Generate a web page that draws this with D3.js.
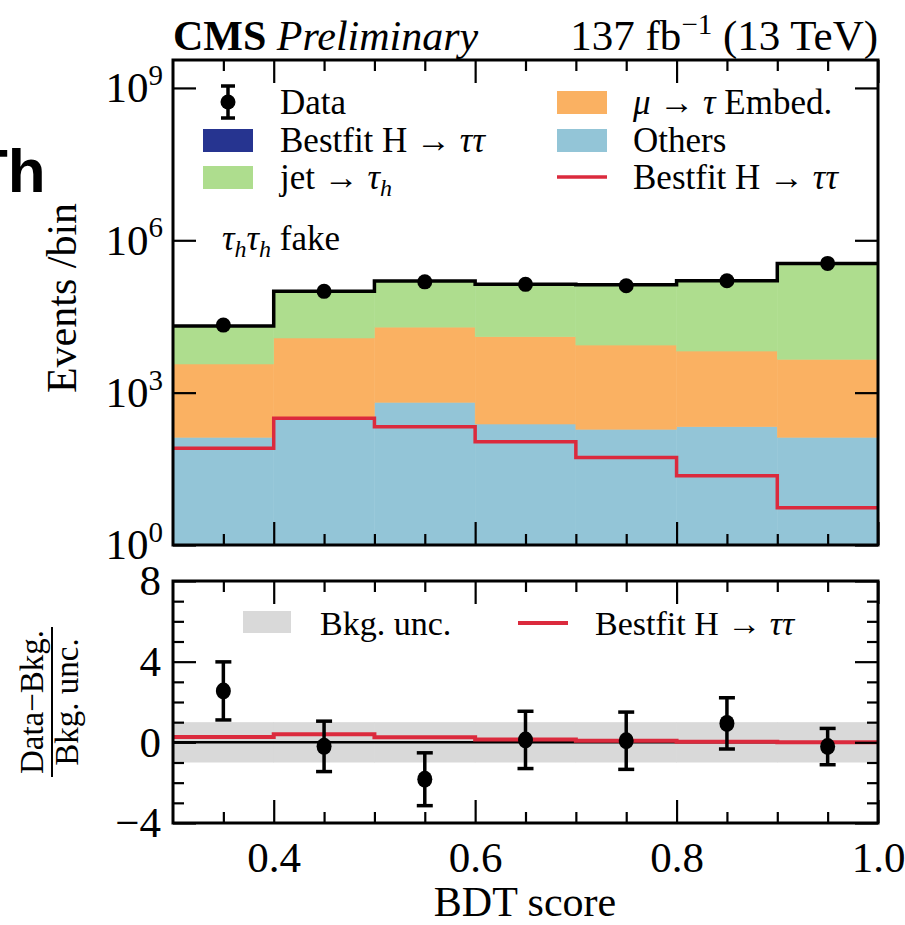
<!DOCTYPE html>
<html><head><meta charset="utf-8">
<script src="https://cdn.jsdelivr.net/npm/d3@7"></script>
<style>body{margin:0;background:#fff}svg{display:block}</style>
</head><body><svg id="c" width="905" height="925"></svg>
<script>
// ---- data ----
const binEdges = [0.3, 0.4, 0.5, 0.6, 0.7, 0.8, 0.9, 1.0];
const binCenters = [0.35, 0.45, 0.55, 0.65, 0.75, 0.85, 0.95];
const others   = [132, 312, 644, 241, 190, 213, 132];
const embed    = [3530, 11590, 18860, 12360, 8460, 6380, 4400];
const jetFakes = [16800, 86800, 137500, 124400, 124300, 153400, 346500];
const signal   = [80, 312, 213, 108, 53, 23, 5.4];
const dataObs  = [21400, 98700, 152000, 135500, 127000, 160000, 351000];
const pullVal  = [2.55, -0.2, -1.83, 0.12, 0.08, 0.94, -0.21];
const pullErr  = [1.44, 1.25, 1.31, 1.42, 1.42, 1.27, 0.9];
const sigPull  = [0.27, 0.40, 0.25, 0.14, 0.08, 0.03, 0.01];
const uncLo    = [-1, -1, -1, -1, -1, -1, -1];
const uncHi    = [1, 1, 1, 1, 1, 1, 1];
const yTicksUpper = [1, 1e3, 1e6, 1e9];
const yTickExp = ["0", "3", "6", "9"];
const yTicksLower = [-4, 0, 4, 8];
const xTicksMajor = [0.4, 0.6, 0.8, 1.0];

const FONT = "'Liberation Serif', 'DejaVu Serif', serif";
const C = {green:"#aedd8e", orange:"#fab162", blue:"#93c5d7", navy:"#263490", red:"#db2a3d", band:"#d9d9d9"};

const svg = d3.select("#c");
const X0 = 173, X1 = 878, UT = 60, UB = 545, LT = 581, LB = 823;
const x = d3.scaleLinear([0.3, 1.0], [X0, X1]);
const yU = d3.scaleLog([1, Math.pow(10, 9.55)], [UB, UT]);
const yL = d3.scaleLinear([-4, 8], [LB, LT]);

const rows = binCenters.map((c, i) => ({i, x0: binEdges[i], x1: binEdges[i+1], others: others[i], embed: embed[i], jet: jetFakes[i]}));
const stack = d3.stack().keys(["others", "embed", "jet"])(rows);
const colors = {others: C.blue, embed: C.orange, jet: C.green};

const gU = svg.append("g");
stack.forEach(layer => {
  gU.selectAll(null).data(layer).enter().append("rect")
    .attr("x", d => x(d.data.x0)).attr("width", d => x(d.data.x1) - x(d.data.x0))
    .attr("y", d => yU(d[1])).attr("height", d => yU(Math.max(d[0], 1)) - yU(d[1]))
    .attr("fill", colors[layer.key]).attr("stroke", colors[layer.key]).attr("stroke-width", 0.5);
});
const stepPts = (vals) => binEdges.map((e, i) => [e, vals[Math.min(i, vals.length - 1)]]);
const totals = rows.map(r => r.others + r.embed + r.jet);
const lineU = d3.line().x(d => x(d[0])).y(d => yU(d[1])).curve(d3.curveStepAfter);
gU.append("path").attr("d", lineU(stepPts(signal))).attr("fill", "none").attr("stroke", C.red).attr("stroke-width", 3.5);
gU.append("path").attr("d", lineU(stepPts(totals))).attr("fill", "none").attr("stroke", "#000").attr("stroke-width", 3.5);
gU.selectAll(null).data(binCenters).enter().append("circle")
  .attr("cx", d => x(d)).attr("cy", (d, i) => yU(dataObs[i])).attr("r", 7.5).attr("fill", "#000");

// ---- lower panel ----
const gL = svg.append("g");
gL.selectAll(null).data(binCenters).enter().append("rect")
  .attr("x", (d, i) => x(binEdges[i]) - 0.3).attr("width", (d, i) => x(binEdges[i+1]) - x(binEdges[i]) + 0.6)
  .attr("y", (d, i) => yL(uncHi[i])).attr("height", (d, i) => yL(uncLo[i]) - yL(uncHi[i]))
  .attr("fill", C.band);
gL.append("line").attr("x1", x(0.3)).attr("x2", x(1.0)).attr("y1", yL(0)).attr("y2", yL(0)).attr("stroke", "#000").attr("stroke-width", 2.5);
const lineL = d3.line().x(d => x(d[0])).y(d => yL(d[1])).curve(d3.curveStepAfter);
gL.append("path").attr("d", lineL(stepPts(sigPull))).attr("fill", "none").attr("stroke", C.red).attr("stroke-width", 4);
const eb = gL.selectAll(null).data(binCenters).enter().append("g");
eb.append("line").attr("x1", d => x(d)).attr("x2", d => x(d))
  .attr("y1", (d, i) => yL(pullVal[i] - pullErr[i])).attr("y2", (d, i) => yL(pullVal[i] + pullErr[i]))
  .attr("stroke", "#000").attr("stroke-width", 3.5);
[-1, 1].forEach(s => {
  eb.append("line").attr("x1", d => x(d) - 8).attr("x2", d => x(d) + 8)
    .attr("y1", (d, i) => yL(pullVal[i] + s * pullErr[i])).attr("y2", (d, i) => yL(pullVal[i] + s * pullErr[i]))
    .attr("stroke", "#000").attr("stroke-width", 3.5);
});
eb.append("ellipse").attr("cx", d => x(d)).attr("cy", (d, i) => yL(pullVal[i])).attr("rx", 7.5).attr("ry", 8.5).attr("fill", "#000");

// ---- axes ----
function styleAxis(g) {
  g.select(".domain").remove();
  g.selectAll(".tick line").attr("stroke", "#000").attr("stroke-width", 2.2);
  g.selectAll(".tick text").attr("font-family", FONT).attr("font-size", 43).attr("fill", "#000");
}
const minorX = d3.range(0.35, 1.0, 0.05).map(v => +v.toFixed(2)).filter(v => !xTicksMajor.some(m => Math.abs(m - v) < 1e-6));
[[UB, d3.axisBottom], [UT, d3.axisTop], [LT, d3.axisTop]].forEach(([yy, ax]) => {
  svg.append("g").attr("transform", `translate(0,${yy})`).call(ax(x).tickValues(xTicksMajor).tickSize(-23).tickFormat("")).call(styleAxis);
  svg.append("g").attr("transform", `translate(0,${yy})`).call(ax(x).tickValues(minorX).tickSize(-11).tickFormat("")).call(styleAxis);
});
svg.append("g").attr("transform", `translate(0,${LB})`).call(d3.axisBottom(x).tickValues(xTicksMajor).tickSize(-23).tickPadding(18).tickFormat(d3.format(".1f"))).call(styleAxis);
svg.append("g").attr("transform", `translate(0,${LB})`).call(d3.axisBottom(x).tickValues(minorX).tickSize(-11).tickFormat("")).call(styleAxis);

const ayU = svg.append("g").attr("transform", `translate(${X0},0)`).call(d3.axisLeft(yU).tickValues(yTicksUpper).tickSize(-23).tickPadding(10).tickFormat(() => "")).call(styleAxis);
ayU.selectAll(".tick text").each(function(d, i) {
  const t = d3.select(this).text(null);
  t.append("tspan").text("10");
  t.append("tspan").attr("font-size", 29).attr("dy", "-0.6em").text(yTickExp[i]);
});
svg.append("g").attr("transform", `translate(${X1},0)`).call(d3.axisRight(yU).tickValues(yTicksUpper).tickSize(-23).tickFormat("")).call(styleAxis);
const minorYL = d3.range(-3, 8, 1).filter(v => !yTicksLower.includes(v));
svg.append("g").attr("transform", `translate(${X0},0)`).call(d3.axisLeft(yL).tickValues(yTicksLower).tickSize(-23).tickPadding(12).tickFormat(d => d < 0 ? "\u2212" + Math.abs(d) : d)).call(styleAxis);
svg.append("g").attr("transform", `translate(${X0},0)`).call(d3.axisLeft(yL).tickValues(minorYL).tickSize(-11).tickFormat("")).call(styleAxis);
svg.append("g").attr("transform", `translate(${X1},0)`).call(d3.axisRight(yL).tickValues(yTicksLower).tickSize(-23).tickFormat("")).call(styleAxis);
svg.append("g").attr("transform", `translate(${X1},0)`).call(d3.axisRight(yL).tickValues(minorYL).tickSize(-11).tickFormat("")).call(styleAxis);

[[UT, UB], [LT, LB]].forEach(([t, b]) => svg.append("rect").attr("x", X0).attr("y", t).attr("width", X1 - X0).attr("height", b - t)
  .attr("fill", "none").attr("stroke", "#000").attr("stroke-width", 3));

// ---- texts ----
function txt(xx, yy, size, anchor) {
  return svg.append("text").attr("x", xx).attr("y", yy).attr("font-family", FONT).attr("font-size", size).attr("text-anchor", anchor || "start").attr("fill", "#000");
}
const title = txt(X0, 50, 42);
title.append("tspan").attr("font-weight", "bold").text("CMS");
title.append("tspan").attr("font-style", "italic").text(" Preliminary");
const lumi = txt(X1, 50, 43, "end");
lumi.append("tspan").text("137 fb");
lumi.append("tspan").attr("font-size", 29).attr("dy", -16).text("\u22121");
lumi.append("tspan").attr("dy", 16).text(" (13 TeV)");

svg.append("text").attr("transform", "translate(76,298) rotate(-90)").attr("text-anchor", "middle")
  .attr("font-family", FONT).attr("font-size", 42).text("Events /bin");
txt(525, 916, 42, "middle").text("BDT score");

const fr = svg.append("g").attr("transform", "translate(52,702) rotate(-90)");
fr.append("text").attr("x", 0).attr("y", -9).attr("text-anchor", "middle").attr("font-family", FONT).attr("font-size", 33).text("Data\u2212Bkg.");
fr.append("line").attr("x1", -75).attr("x2", 75).attr("y1", 0).attr("y2", 0).attr("stroke", "#000").attr("stroke-width", 2);
fr.append("text").attr("x", 0).attr("y", 26).attr("text-anchor", "middle").attr("font-family", FONT).attr("font-size", 33).text("Bkg. unc.");

// clipped side label
svg.append("text").attr("x", -30).attr("y", 192).attr("font-family", "'Liberation Sans', Arial, sans-serif").attr("font-weight", "bold").attr("font-size", 62).text("Th");

// legend (upper)
const LS = 35;
svg.append("line").attr("x1", 228).attr("x2", 228).attr("y1", 86).attr("y2", 118).attr("stroke", "#000").attr("stroke-width", 3.5);
[86, 118].forEach(yy => svg.append("line").attr("x1", 221).attr("x2", 235).attr("y1", yy).attr("y2", yy).attr("stroke", "#000").attr("stroke-width", 3.5));
svg.append("circle").attr("cx", 228).attr("cy", 102).attr("r", 7.5).attr("fill", "#000");
txt(280, 114, LS).text("Data");
svg.append("rect").attr("x", 203).attr("y", 129).attr("width", 50).attr("height", 23).attr("fill", C.navy);
const l2 = txt(280, 152, LS); l2.append("tspan").text("Bestfit H \u2192 "); l2.append("tspan").attr("font-style", "italic").text("\u03c4\u03c4");
svg.append("rect").attr("x", 203).attr("y", 166).attr("width", 50).attr("height", 23).attr("fill", C.green);
const l3 = txt(280, 189, LS); l3.append("tspan").text("jet \u2192 "); l3.append("tspan").attr("font-style", "italic").text("\u03c4");
l3.append("tspan").attr("font-style", "italic").attr("font-size", 24).attr("dy", 7).text("h");
svg.append("rect").attr("x", 557).attr("y", 91).attr("width", 50).attr("height", 23).attr("fill", C.orange);
const r1 = txt(633, 114, LS); r1.append("tspan").attr("font-style", "italic").text("\u03bc"); r1.append("tspan").text(" \u2192 ");
r1.append("tspan").attr("font-style", "italic").text("\u03c4"); r1.append("tspan").text(" Embed.");
svg.append("rect").attr("x", 557).attr("y", 129).attr("width", 50).attr("height", 23).attr("fill", C.blue);
txt(633, 152, LS).text("Others");
svg.append("line").attr("x1", 557).attr("x2", 607).attr("y1", 177).attr("y2", 177).attr("stroke", C.red).attr("stroke-width", 3.5);
const r3 = txt(633, 189, LS); r3.append("tspan").text("Bestfit H \u2192 "); r3.append("tspan").attr("font-style", "italic").text("\u03c4\u03c4");

const ch = txt(222, 250, LS);
ch.append("tspan").attr("font-style", "italic").text("\u03c4");
ch.append("tspan").attr("font-style", "italic").attr("font-size", 24).attr("dy", 7).text("h");
ch.append("tspan").attr("font-style", "italic").attr("dy", -7).text("\u03c4");
ch.append("tspan").attr("font-style", "italic").attr("font-size", 24).attr("dy", 7).text("h");
ch.append("tspan").attr("dy", -7).text(" fake");

// lower legend
svg.append("rect").attr("x", 243).attr("y", 611).attr("width", 48).attr("height", 22).attr("fill", C.band);
txt(320, 635, 34).text("Bkg. unc.");
svg.append("line").attr("x1", 518).attr("x2", 568).attr("y1", 623).attr("y2", 623).attr("stroke", C.red).attr("stroke-width", 4);
const ll = txt(595, 635, 34); ll.append("tspan").text("Bestfit H \u2192 "); ll.append("tspan").attr("font-style", "italic").text("\u03c4\u03c4");
</script></body></html>
